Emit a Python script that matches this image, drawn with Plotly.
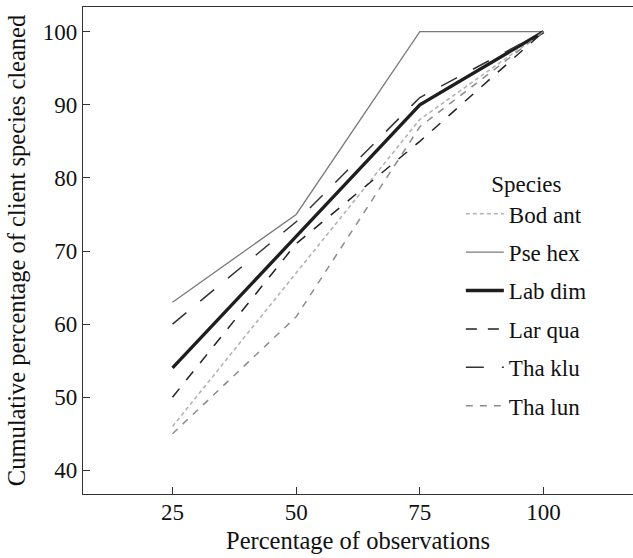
import plotly.graph_objects as go

obs_pct = [25, 50, 75, 100]
species = ["Bod ant", "Pse hex", "Lab dim", "Lar qua", "Tha klu", "Tha lun"]
bod_ant = [46, 67, 88, 100]
pse_hex = [63, 75, 100, 100]
lab_dim = [54, 72, 90, 100]
lar_qua = [50, 71, 85, 100]
tha_klu = [60, 74, 91, 100]
tha_lun = [45, 61, 87, 100]
y_ticks = [40, 50, 60, 70, 80, 90, 100]

series = [bod_ant, pse_hex, lab_dim, lar_qua, tha_klu, tha_lun]
styles = [
    dict(color="#b4b4b4", width=1.6, dash="4px,3px"),
    dict(color="#7a7a7a", width=1.3, dash="solid"),
    dict(color="#1e1e1e", width=3.3, dash="solid"),
    dict(color="#222222", width=1.5, dash="11px,11px"),
    dict(color="#333333", width=1.5, dash="18px,18px"),
    dict(color="#8c8c8c", width=1.5, dash="7px,7px"),
]

FONT = "Liberation Serif"
fig = go.Figure()
for name, vals, st in zip(species, series, styles):
    fig.add_trace(go.Scatter(x=obs_pct, y=vals, mode="lines", name=name,
                             legendgroup=name, line=st))

axis_common = dict(showline=True, linecolor="#333", linewidth=1.3, mirror=True,
                   ticks="inside", ticklen=7, tickwidth=1.2, tickcolor="#333",
                   showgrid=False, zeroline=False,
                   tickfont=dict(family=FONT, size=23, color="#111"))
fig.update_xaxes(range=[6.9, 118.1], tickvals=obs_pct, ticklabelstandoff=-3,
                 title=dict(text="Percentage of observations",
                            font=dict(family=FONT, size=24.5, color="#111"), standoff=8),
                 **axis_common)
fig.update_yaxes(range=[36.76, 103.38], tickvals=y_ticks,
                 title=dict(text="Cumulative percentage of client species cleaned",
                            font=dict(family=FONT, size=24.5, color="#111"), standoff=10),
                 **axis_common)

fig.update_layout(
    width=633, height=558,
    margin=dict(l=83, r=0, t=7, b=64),
    plot_bgcolor="white", paper_bgcolor="white",
    font=dict(family=FONT, size=23, color="#111"),
    legend=dict(x=0.687, y=0.681, xanchor="left", yanchor="top",
                bgcolor="rgba(0,0,0,0)", tracegroupgap=5.5, itemwidth=38,
                title=dict(text="Species", side="top center",
                           font=dict(family=FONT, size=23, color="#111")),
                font=dict(family=FONT, size=23, color="#111")),
)

fig.write_html("out.html")
